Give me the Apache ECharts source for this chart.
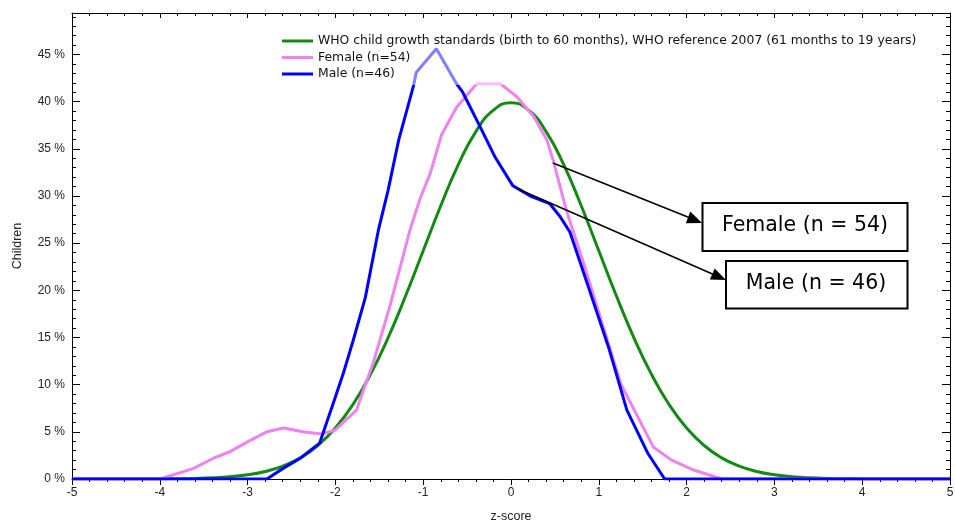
<!DOCTYPE html>
<html>
<head>
<meta charset="utf-8">
<script src="https://cdn.jsdelivr.net/npm/echarts@6/dist/echarts.min.js"></script>
<style>
html,body{margin:0;padding:0;background:#fff;}
#chart{width:955px;height:523px;}
</style>
</head>
<body>
<div id="chart"></div>
<script>
// ---- data ----
var whoZ   = [-5,-4.8,-4.6,-4.4,-4.2,-4,-3.8,-3.6,-3.4,-3.2,-3,-2.8,-2.6,-2.4,-2.2,-2,-1.8,-1.6,-1.4,-1.2,-1,-0.8,-0.6,-0.4,-0.2,0,0.2,0.4,0.6,0.8,1,1.2,1.4,1.6,1.8,2,2.2,2.4,2.6,2.8,3,3.2,3.4,3.6,3.8,4,4.2,4.4,4.6,4.8,5];
var whoPct = [0,0,0,0,0.01,0.01,0.03,0.06,0.12,0.24,0.44,0.79,1.36,2.24,3.55,5.40,7.90,11.09,14.97,19.42,24.20,28.97,33.32,36.83,39.10,39.89,39.10,36.83,33.32,28.97,24.20,19.42,14.97,11.09,7.90,5.40,3.55,2.24,1.36,0.79,0.44,0.24,0.12,0.06,0.03,0.01,0.01,0,0,0,0];

var femaleZ   = [-5,-4.0,-3.62,-3.39,-3.2,-2.97,-2.78,-2.59,-2.37,-2.16,-2.0,-1.76,-1.68,-1.57,-1.38,-1.15,-1.04,-0.92,-0.79,-0.62,-0.39,-0.12,0.07,0.26,0.41,0.48,0.63,0.84,1.25,1.62,1.83,2.08,2.40,5];
var femalePct = [0,0,1.1,2.2,2.9,4.1,5.0,5.4,5.0,4.76,5.2,7.3,9.4,12.3,18.3,26.4,29.6,32.4,36.5,39.4,41.9,41.9,40.5,38.4,35.9,33.8,28.5,22.5,10.1,3.4,2.0,0.95,0,0];

var maleZ   = [-5,-2.78,-2.6,-2.4,-2.18,-2.0,-1.91,-1.8,-1.66,-1.51,-1.4,-1.28,-1.11,-1.08,-0.85,-0.62,-0.55,-0.35,-0.18,0.02,0.22,0.44,0.56,0.67,0.88,1.11,1.32,1.56,1.75,5];
var malePct = [0,0,1.1,2.2,3.8,8.7,11.2,14.6,19.2,26.4,30.6,35.9,41.7,43.1,45.6,41.9,41.0,37.3,34.1,31.1,30.0,29.2,27.8,26.2,20.4,14.0,7.3,2.7,0,0];

var seriesNames = ['WHO child growth standards (birth to 60 months), WHO reference 2007 (61 months to 19 years)','Female (n=54)','Male (n=46)'];
var xTicks = {min:-5, max:5, step:1};
var yTicks = {min:0, max:49.4, step:5};
var boxLabels = ['Female (n = 54)','Male (n = 46)'];

function zip(a,b){return a.map(function(v,i){return [v,b[i]];});}

var chart = echarts.init(document.getElementById('chart'));
var axisFont = {fontFamily:'Liberation Sans', fontSize:12, color:'#222'};

var option = {
  animation:false,
  backgroundColor:'#fff',
  grid:{left:72, right:5, top:13, bottom:44, containLabel:false, outerBoundsMode:'none'},
  legend:{
    orient:'vertical', left:278, top:31, padding:[4,6,5,4], itemGap:4.5,
    itemWidth:31, itemHeight:3, icon:'rect', z:20,
    backgroundColor:'rgba(255,255,255,0.5)',
    textStyle:{fontFamily:'DejaVu Sans', fontSize:12.4, color:'#111'},
    data:seriesNames
  },
  xAxis:[{
    type:'value', min:xTicks.min, max:xTicks.max, interval:xTicks.step,
    name:'z-score', nameLocation:'middle', nameGap:31,
    nameTextStyle:{fontFamily:'Liberation Sans', fontSize:12.5, color:'#222'},
    axisLine:{onZero:false, lineStyle:{color:'#000', width:1}},
    axisTick:{inside:false, length:6, lineStyle:{color:'#000'}},
    minorTick:{show:true, splitNumber:5, length:3, lineStyle:{color:'#000'}},
    axisLabel:Object.assign({margin:8}, axisFont),
    splitLine:{show:false}
  },{
    type:'value', position:'top', min:xTicks.min, max:xTicks.max, interval:xTicks.step,
    axisLine:{onZero:false, lineStyle:{color:'#000', width:1}},
    axisTick:{inside:true, length:5, lineStyle:{color:'#000'}},
    minorTick:{show:true, splitNumber:5, length:3, lineStyle:{color:'#000'}},
    axisLabel:{show:false}, splitLine:{show:false}
  }],
  yAxis:[{
    type:'value', min:yTicks.min, max:yTicks.max, interval:yTicks.step,
    name:'Children', nameLocation:'middle', nameGap:48,
    nameTextStyle:{fontFamily:'Liberation Sans', fontSize:12.5, color:'#222'},
    axisLine:{show:true, onZero:false, lineStyle:{color:'#000', width:1}},
    axisTick:{show:true, inside:true, length:8, lineStyle:{color:'#000'}},
    minorTick:{show:true, splitNumber:5, length:4, lineStyle:{color:'#000'}},
    axisLabel:Object.assign({margin:7, formatter:'{value} %', showMaxLabel:false}, axisFont),
    splitLine:{show:false}
  },{
    type:'value', position:'right', min:yTicks.min, max:yTicks.max, interval:yTicks.step,
    axisLine:{show:true, onZero:false, lineStyle:{color:'#000', width:1}},
    axisTick:{show:true, inside:true, length:8, lineStyle:{color:'#000'}},
    minorTick:{show:true, splitNumber:5, length:4, lineStyle:{color:'#000'}},
    axisLabel:{show:false}, splitLine:{show:false}
  }],
  series:[
    {name:seriesNames[0], type:'line', smooth:true, showSymbol:false, data:zip(whoZ, whoPct),
     lineStyle:{color:'#138a13', width:3}, itemStyle:{color:'#138a13'}, z:2},
    {name:seriesNames[1], type:'line', showSymbol:false, data:zip(femaleZ, femalePct),
     lineStyle:{color:'#ee82ee', width:3}, itemStyle:{color:'#ee82ee'}, z:3},
    {name:seriesNames[2], type:'line', showSymbol:false, data:zip(maleZ, malePct),
     lineStyle:{color:'#0000ff', width:3}, itemStyle:{color:'#0000ff'}, z:4}
  ],
  graphic:[
    {type:'line', shape:{x1:553, y1:163, x2:689, y2:217.5}, style:{stroke:'#000', lineWidth:1.5}, z:10},
    {type:'polygon', shape:{points:[[702,223],[685.8,223.2],[690.3,211.6]]}, style:{fill:'#000'}, z:10},
    {type:'line', shape:{x1:517, y1:188.5, x2:713, y2:274.3}, style:{stroke:'#000', lineWidth:1.5}, z:10},
    {type:'polygon', shape:{points:[[726,280],[709.9,279.6],[714.7,268.4]]}, style:{fill:'#000'}, z:10},
    {type:'rect', shape:{x:702.5, y:203, width:205, height:48}, style:{fill:'#fff', stroke:'#000', lineWidth:2}, z:10},
    {type:'text', x:805, y:226, style:{text:boxLabels[0], fontFamily:'DejaVu Sans', fontSize:20.5, fill:'#000', align:'center', verticalAlign:'middle'}, z:11},
    {type:'rect', shape:{x:726, y:261, width:181.5, height:47.5}, style:{fill:'#fff', stroke:'#000', lineWidth:2}, z:10},
    {type:'text', x:816, y:284, style:{text:boxLabels[1], fontFamily:'DejaVu Sans', fontSize:20.5, fill:'#000', align:'center', verticalAlign:'middle'}, z:11}
  ]
};
chart.setOption(option);
</script>
</body>
</html>
